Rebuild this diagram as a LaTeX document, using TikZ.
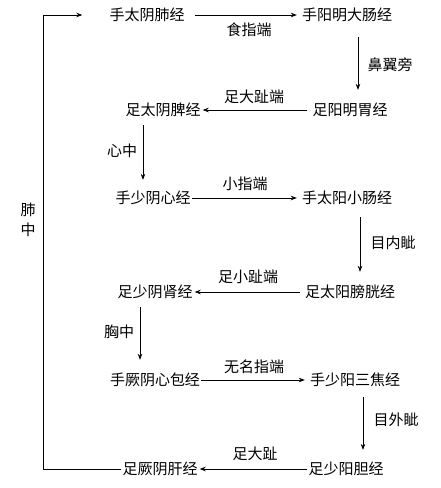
\documentclass[tikz,border=0pt]{standalone}
\usepackage{fontspec}
\setmainfont{Noto Sans CJK SC}
\usetikzlibrary{arrows.meta}
\begin{document}
\begin{tikzpicture}[x=1pt,y=-1pt,
  mer/.style={inner sep=1pt,font=\fontsize{15}{18}\selectfont},
  lab/.style={inner sep=0pt,font=\fontsize{15}{20}\selectfont},
  arr/.style={line width=0.7pt,-{Stealth[length=6pt,width=4.5pt]}}]
\fill[white] (0,0) rectangle (441,488);
\useasboundingbox (0,0) rectangle (441,488);
\node[mer] (n1) at (147,15) {手太阴肺经};
\node[mer] (n2) at (347,15) {手阳明大肠经};
\node[mer] (n3) at (350,110) {足阳明胃经};
\node[mer] (n4) at (163,110) {足太阴脾经};
\node[mer] (n5) at (153,198) {手少阴心经};
\node[mer] (n6) at (347,198) {手太阳小肠经};
\node[mer] (n7) at (350,292) {足太阳膀胱经};
\node[mer] (n8) at (155,292) {足少阴肾经};
\node[mer] (n9) at (155,380) {手厥阴心包经};
\node[mer] (n10) at (355,380) {手少阳三焦经};
\node[mer] (n11) at (346,469) {足少阳胆经};
\node[mer] (n12) at (160,469) {足厥阴肝经};
% horizontal
\draw[arr,shorten <=9pt,shorten >=4pt] (n1.east) -- (n2.west);
\draw[arr,shorten <=4pt,shorten >=1pt] (n3.west) -- (n4.east);
\draw[arr,shorten >=4pt] (n5.east) -- (n6.west);
\draw[arr,shorten <=4pt,shorten >=1pt] (n7.west) -- (n8.east);
\draw[arr,shorten >=4pt] (n9.east) -- (n10.west);
\draw[arr,shorten >=1pt] (n11.west) -- (n12.east);
% vertical
\draw[arr,shorten <=14pt,shorten >=12pt] ([xshift=11pt]n2.south) -- ([xshift=8pt]n3.north);
\draw[arr,shorten <=7pt,shorten >=10pt] ([xshift=-20pt]n4.south) -- ([xshift=-10pt]n5.north);
\draw[arr,shorten <=11pt,shorten >=12pt] ([xshift=13pt]n6.south) -- ([xshift=10pt]n7.north);
\draw[arr,shorten <=7pt,shorten >=12pt] ([xshift=-15pt]n8.south) -- ([xshift=-15pt]n9.north);
\draw[arr,shorten <=9pt,shorten >=11pt] ([xshift=8pt]n10.south) -- ([xshift=17pt]n11.north);
% loop
\draw[arr] (n12.west) -- ++(-78,0) |- ([xshift=-26pt]n1.west);
% labels
\node[lab] (l1) at (249,30) {食指端};
\node[lab] (l2) at (390,65) {鼻翼旁};
\node[lab] (l3) at (254,97) {足大趾端};
\node[lab] (l4) at (122,151) {心中};
\node[lab] (l5) at (245,184) {小指端};
\node[lab] (l6) at (393,243) {目内眦};
\node[lab] (l7) at (248,277) {足小趾端};
\node[lab] (l8) at (119,332) {胸中};
\node[lab] (l9) at (254,367) {无名指端};
\node[lab] (l10) at (396,420) {目外眦};
\node[lab] (l11) at (255,454) {足大趾};
\node[lab,align=center] (l12) at (28,220) {肺\\中};
\end{tikzpicture}
\end{document}
